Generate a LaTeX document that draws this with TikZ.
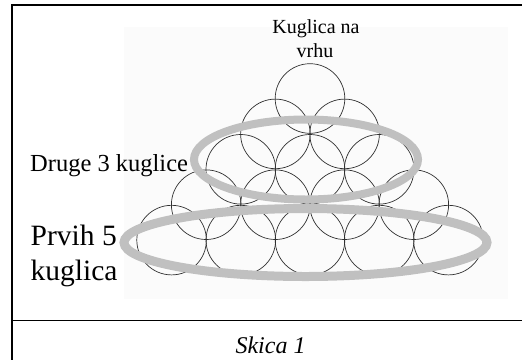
\documentclass[tikz,border=0pt]{standalone}
\usepackage{fontspec}
\setmainfont{Liberation Serif}
\definecolor{ringgray}{HTML}{C0C0C0}
\definecolor{bggray}{HTML}{FBFBFB}
\definecolor{ballline}{HTML}{303030}
\begin{document}
\begin{tikzpicture}[x=1pt,y=-1pt,
  frameline/.style={line width=1.5pt,black},
  ball/.style={draw=ballline,line width=0.7pt},
  ring/.style={draw=ringgray},
  lbl/.style={inner sep=0pt,text=black}]
\useasboundingbox (0,0) rectangle (522,360);
% background panel
\fill[bggray] (124,27) rectangle (508,299);
% frame
\draw[frameline] (522,4.8) -- (12,4.8) -- (12,360);
\draw[frameline] (12,320.7) -- (522,320.7);
% balls
\foreach \row in {0,...,4}{
  \foreach \k in {0,...,\row}{
    \pgfmathsetmacro{\cx}{310 + 34.6*(2*\k-\row)}
    \pgfmathsetmacro{\cy}{98.5 + 35.4*\row}
    \draw[ball] (\cx,\cy) circle[radius=34.8];
  }
}
% rings
\draw[ring,line width=8pt] (306,159.5) ellipse[x radius=112,y radius=40];
\draw[ring,line width=9pt] (305.5,242.5) ellipse[x radius=181.5,y radius=34];
% labels
\node[lbl,anchor=base] (top1) at (316,33) {\fontsize{20}{24}\selectfont Kuglica na};
\node[lbl,anchor=base] (top2) at (315,57) {\fontsize{20}{24}\selectfont vrhu};
\node[lbl,anchor=base west] (druge) at (30,171.5) {\fontsize{24.5}{29}\selectfont Druge 3 kuglice};
\node[lbl,anchor=base west] (prvih1) at (30.5,245) {\fontsize{29.5}{35}\selectfont Prvih 5};
\node[lbl,anchor=base west] (prvih2) at (30.5,280) {\fontsize{29.5}{35}\selectfont kuglica};
\node[lbl,anchor=base] (skica) at (270.5,353) {\fontsize{24}{29}\selectfont\itshape Skica 1};
\end{tikzpicture}
\end{document}
